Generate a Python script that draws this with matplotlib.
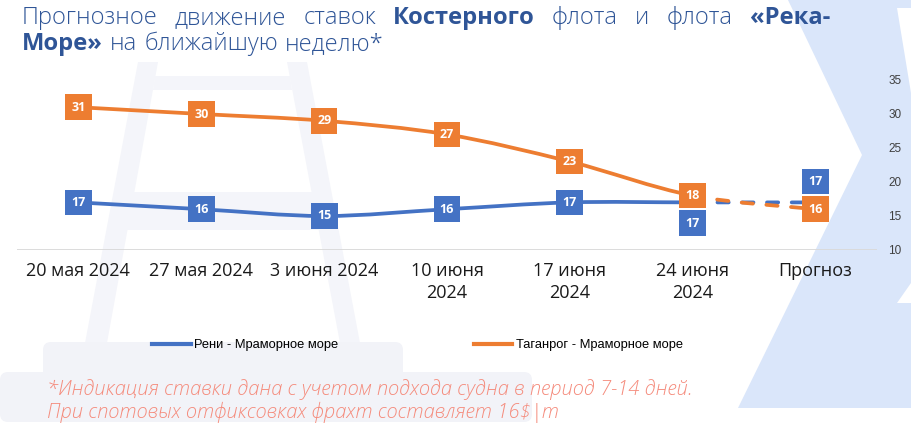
import numpy as np
import matplotlib
matplotlib.use("Agg")
import matplotlib.pyplot as plt
from matplotlib import font_manager
from matplotlib.patches import Polygon, FancyBboxPatch, PathPatch
from matplotlib.path import Path
from matplotlib.lines import Line2D
from matplotlib.transforms import Affine2D

W, H = 911, 433

# data
categories = ["20 мая 2024", "27 мая 2024", "3 июня 2024", "10 июня\n2024",
              "17 июня\n2024", "24 июня\n2024", "Прогноз"]
reni = [17, 16, 15, 16, 17, 17, 17]
taganrog = [31, 30, 29, 27, 23, 18, 16]
y_ticks = [10, 15, 20, 25, 30, 35]
series_names = ["Рени - Мраморное море", "Таганрог - Мраморное море"]

title1 = [("Прогнозное", False), ("движение", False), ("ставок", False),
          ("Костерного", True), ("флота", False), ("и", False),
          ("флота", False), ("«Река-", True)]
title2 = [("Море»", True), ("на", False), ("ближайшую", False), ("неделю*", False)]
note = ["*Индикация ставки дана с учетом подхода судна в период 7-14 дней.",
        "При спотовых отфиксовках фрахт составляет 16$|т"]

# label offsets (points) - where excel moved labels off the line
reni_dy = [0, 0, 0, 0, 0, -15, 15]
tag_dy = [0, 0, 0, 0, 0, 0, 0]

BLUE = "#4472c4"
ORANGE = "#ed7d31"
TITLE_C = "#2f5597"
NOTE_C = "#f58b7c"
DECOR = "#f4f5fa"
CHEV = "#dae6fa"

installed = {f.name for f in font_manager.fontManager.ttflist}
MAIN = "Open Sans" if "Open Sans" in installed else "DejaVu Sans"
ARIAL = "Liberation Sans" if "Liberation Sans" in installed else "DejaVu Sans"

fig = plt.figure(figsize=(W / 100, H / 100), dpi=100)
fig.patch.set_facecolor("white")
PX = Affine2D().scale(1, -1).translate(0, H)  # pixel coords, origin top-left


def poly(coords, color):
    fig.add_artist(Polygon(coords, closed=True, transform=PX, facecolor=color,
                           edgecolor="none", zorder=-2))


def rbox(x, y, w, h, color, r=8):
    fig.add_artist(FancyBboxPatch((x, y), w, h, boxstyle=f"round,pad=0,rounding_size={r}",
                                  transform=PX, facecolor=color, edgecolor="none", zorder=-2))


# faint logo "A" in the background
poly([(138, 62), (158, 62), (107, 343), (85, 343)], DECOR)
poly([(287, 62), (307, 62), (360, 343), (340, 343)], DECOR)
poly([(155, 76), (290, 76), (292, 90), (153, 90)], DECOR)
poly([(132, 192), (314, 192), (321, 230), (125, 230)], DECOR)
rbox(43, 342, 360, 40, "#f2f3f8")
rbox(0, 372, 532, 50, "#f2f3f8")

# light blue chevron on the right
poly([(788, 0), (911, 0), (911, 408), (738, 408), (862, 155)], CHEV)
poly([(897, 8), (911, 8), (911, 93)], "white")
poly([(911, 283), (911, 303), (897, 303)], "white")

# axes
ax = fig.add_axes([17 / W, 1 - 250 / H, 860 / W, 170 / H])
ax.set_xlim(-0.5, len(categories) - 0.5)
ax.set_ylim(10, 35)
ax.patch.set_alpha(0)
for s in ax.spines.values():
    s.set_visible(False)
ax.axhline(10, color="#d9d9d9", lw=1.3, zorder=1)

ax.yaxis.tick_right()
ax.set_yticks(y_ticks)
ax.tick_params(axis="y", length=0, pad=8, labelsize=8.5, labelcolor="#404040")
for lab in ax.get_yticklabels():
    lab.set_fontfamily(ARIAL)

ax.set_xticks(range(len(categories)))
ax.set_xticklabels(categories, fontfamily=MAIN, fontsize=13, color="#1a1a1a", linespacing=1.25)
ax.tick_params(axis="x", length=0, pad=9)


def segments(ys):
    P = np.column_stack([np.arange(len(ys)), ys]).astype(float)
    n = len(P)
    segs = []
    for i in range(n - 1):
        p0, p1, p2, p3 = P[max(i - 1, 0)], P[i], P[i + 1], P[min(i + 2, n - 1)]
        segs.append((p1, p1 + (p2 - p0) / 6, p2 - (p3 - p1) / 6, p2))
    return segs


def bez(segs):
    verts = [segs[0][0]]
    codes = [Path.MOVETO]
    for s in segs:
        verts += [s[1], s[2], s[3]]
        codes += [Path.CURVE4] * 3
    return Path(verts, codes)


def draw_series(ys, color, dys, z):
    segs = segments(ys)
    ax.add_patch(PathPatch(bez(segs[:-1]), fill=False, edgecolor=color, lw=2.7,
                           capstyle="round", joinstyle="round", zorder=z))
    ax.add_patch(PathPatch(bez(segs[-1:]), fill=False, edgecolor=color, lw=2.7,
                           linestyle=(0, (3.0, 3.6)), capstyle="round", zorder=z))
    for i, v in enumerate(ys):
        ax.annotate(str(v), (i, v), xytext=(0, dys[i]), textcoords="offset points",
                    ha="center", va="center", color="white", fontsize=9,
                    fontweight="bold", fontfamily=MAIN, zorder=z + 2,
                    bbox=dict(boxstyle="square,pad=0.5", fc=color, ec="none"))


draw_series(reni, BLUE, reni_dy, 3)
draw_series(taganrog, ORANGE, tag_dy, 4)

# legend
handles = [Line2D([], [], color=BLUE, lw=3), Line2D([], [], color=ORANGE, lw=3)]
fig.legend(handles, series_names, loc="center left", bbox_to_anchor=(152 / W, 1 - 345 / H),
           ncol=2, frameon=False, borderpad=0, borderaxespad=0, handlelength=3.0,
           handletextpad=0.25, columnspacing=10.5,
           prop=dict(family=ARIAL, size=9.3))

# title: fit second line, justify first line
r = fig.canvas.get_renderer()


def make_words(words, y, fs):
    out = []
    for w, b in words:
        t = fig.text(0, y, w, transform=PX, fontsize=fs, fontfamily=MAIN,
                     fontweight="bold" if b else "light", color=TITLE_C, va="baseline")
        out.append(t)
    return out


def widths(texts):
    return [t.get_window_extent(r).width for t in texts]


fs = 15
t2 = make_words(title2, 50, fs)
space = 0.3 * fs * 100 / 72
nat = sum(widths(t2)) + space * (len(t2) - 1)
fs = fs * 363 / nat
for t in t2:
    t.set_fontsize(fs)
space = 0.3 * fs * 100 / 72
x = 22
for t, w in zip(t2, widths(t2)):
    t.set_x(x)
    x += w + space

t1 = make_words(title1, 24, fs)
w1 = widths(t1)
gap = (808 - sum(w1)) / (len(t1) - 1)
x = 22
for t, w in zip(t1, w1):
    t.set_x(x)
    x += w + gap

# footnote
n1 = fig.text(47, 395, note[0], transform=PX, fontsize=13, fontfamily=MAIN,
              style="italic", weight="light", color=NOTE_C, va="baseline")
nfs = 13 * 643 / n1.get_window_extent(r).width
n1.set_fontsize(nfs)
fig.text(47, 418, note[1], transform=PX, fontsize=nfs, fontfamily=MAIN,
         style="italic", weight="light", color=NOTE_C, va="baseline")

fig.savefig("out.png", dpi=100, facecolor="white")
